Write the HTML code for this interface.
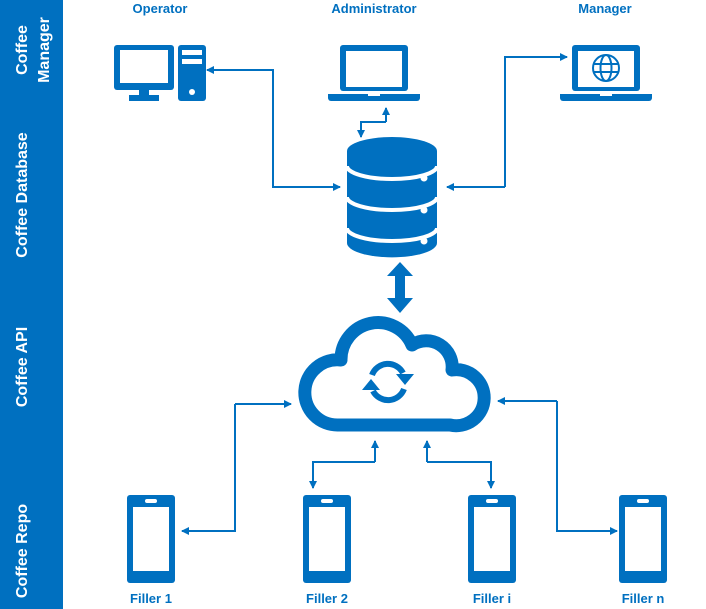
<!DOCTYPE html>
<html><head><meta charset="utf-8"><style>
html,body{margin:0;padding:0;background:#fff;width:706px;height:609px;overflow:hidden}
svg{display:block}
text{font-family:"Liberation Sans",sans-serif;font-weight:bold}
</style></head><body>
<svg width="706" height="609" viewBox="0 0 706 609" xmlns="http://www.w3.org/2000/svg">
<defs>
<marker id="ah" markerWidth="8" markerHeight="8" refX="7" refY="4" orient="auto" markerUnits="userSpaceOnUse">
<path d="M0,0 L8,4 L0,8 Z" fill="#0070C0"/>
</marker>
</defs>
<rect x="0" y="0" width="63" height="609" fill="#0070C0"/>
<g fill="#fff" font-size="16">
<text transform="translate(27,50) rotate(-90)" text-anchor="middle">Coffee</text>
<text transform="translate(49,50) rotate(-90)" text-anchor="middle">Manager</text>
<text transform="translate(27,195) rotate(-90)" text-anchor="middle">Coffee Database</text>
<text transform="translate(27,367) rotate(-90)" text-anchor="middle">Coffee API</text>
<text transform="translate(27,551) rotate(-90)" text-anchor="middle">Coffee Repo</text>
</g>
<g fill="#0070C0" font-size="13" text-anchor="middle">
<text x="160" y="13">Operator</text>
<text x="374" y="13">Administrator</text>
<text x="605" y="13">Manager</text>
<text x="151" y="603">Filler 1</text>
<text x="327" y="603">Filler 2</text>
<text x="492" y="603">Filler i</text>
<text x="643" y="603">Filler n</text>
</g>
<g fill="#0070C0">
<rect x="114" y="45" width="60" height="45" rx="3"/>
<rect x="120" y="50" width="48" height="33" fill="#fff"/>
<rect x="139" y="89" width="10" height="6"/>
<rect x="129" y="95" width="30" height="6"/>
<rect x="178" y="45" width="28" height="56" rx="3"/>
<rect x="182" y="50" width="20" height="5" fill="#fff"/>
<rect x="182" y="59" width="20" height="5" fill="#fff"/>
<circle cx="192" cy="92" r="3" fill="#fff"/>
</g>
<g fill="#0070C0">
<rect x="340" y="45" width="68" height="46" rx="3"/>
<rect x="346" y="51" width="56" height="36" fill="#fff"/>
<path d="M328,94 H420 V98 a3,3 0 0 1 -3,3 H331 a3,3 0 0 1 -3,-3 Z"/>
<rect x="368" y="94" width="12" height="2" fill="#fff"/>
</g>
<g fill="#0070C0">
<rect x="572" y="45" width="68" height="46" rx="3"/>
<rect x="578" y="51" width="56" height="36" fill="#fff"/>
<path d="M560,94 H652 V98 a3,3 0 0 1 -3,3 H563 a3,3 0 0 1 -3,-3 Z"/>
<rect x="600" y="94" width="12" height="2" fill="#fff"/>
</g>
<g fill="none" stroke="#0070C0" stroke-width="2">
<circle cx="606" cy="68" r="13"/>
<ellipse cx="606" cy="68" rx="5.5" ry="13"/>
<line x1="593" y1="64" x2="619" y2="64"/>
<line x1="593" y1="72" x2="619" y2="72"/>
</g>
<g fill="#0070C0">
<path d="M347,151 V243 A44,14 0 0 0 437,243 V151 Z"/>
<ellipse cx="392" cy="151" rx="45" ry="14"/>
</g>
<g fill="none" stroke="#fff" stroke-width="4">
<path d="M347,166 A45,13 0 0 0 437,166"/>
<path d="M347,197 A45,13 0 0 0 437,197"/>
<path d="M347,228 A45,13 0 0 0 437,228"/>
</g>
<g fill="#fff">
<circle cx="424" cy="178" r="3.5"/><circle cx="424" cy="210" r="3.5"/><circle cx="424" cy="241" r="3.5"/>
</g>
<path d="M400,262 L413,276 H405 V298 H413 L400,313 L387,298 H395 V276 H387 Z" fill="#0070C0"/>
<path d="M338,425 A32.6,32.6 0 1 1 341,360 A37,37 0 0 1 412,345 A26,26 0 0 1 452,370 A28,28 0 1 1 450,425 Z" fill="none" stroke="#0070C0" stroke-width="13" stroke-linejoin="round"/>
<g fill="none" stroke="#0070C0" stroke-width="6">
<path d="M372,375 A17,17 0 0 1 403,373"/>
<path d="M404,389 A17,17 0 0 1 373,391"/>
</g>
<g fill="#0070C0">
<path d="M396,374 L414,374 L405,385 Z"/>
<path d="M362,390 L380,390 L371,379 Z"/>
</g>
<g fill="none" stroke="#0070C0" stroke-width="2" marker-end="url(#ah)">
<path d="M340,187 H273 V70 H207"/>
<path d="M273,70 V187 H340"/>
<path d="M386,122 V108"/>
<path d="M386,122 H361 V137"/>
<path d="M505,187 H447"/>
<path d="M505,187 V57 H567"/>
<path d="M235,404 V531 H182"/>
<path d="M235,404 H291"/>
<path d="M375,462 V441"/>
<path d="M375,462 H313 V488"/>
<path d="M427,462 V441"/>
<path d="M427,462 H491 V488"/>
<path d="M557,401 H498"/>
<path d="M557,401 V531 H617"/>
</g>
<g fill="#0070C0">
<g transform="translate(127,495)"><rect width="48" height="88" rx="3"/><rect x="6" y="12" width="36" height="64" fill="#fff"/><rect x="18" y="4" width="12" height="4" rx="2" fill="#fff"/></g>
<g transform="translate(303,495)"><rect width="48" height="88" rx="3"/><rect x="6" y="12" width="36" height="64" fill="#fff"/><rect x="18" y="4" width="12" height="4" rx="2" fill="#fff"/></g>
<g transform="translate(468,495)"><rect width="48" height="88" rx="3"/><rect x="6" y="12" width="36" height="64" fill="#fff"/><rect x="18" y="4" width="12" height="4" rx="2" fill="#fff"/></g>
<g transform="translate(619,495)"><rect width="48" height="88" rx="3"/><rect x="6" y="12" width="36" height="64" fill="#fff"/><rect x="18" y="4" width="12" height="4" rx="2" fill="#fff"/></g>
</g>
</svg>
</body></html>
